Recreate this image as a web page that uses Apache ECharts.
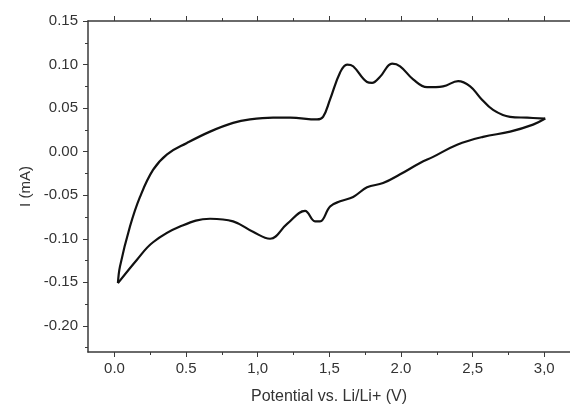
<!DOCTYPE html>
<html>
<head>
<meta charset="utf-8">
<script src="https://cdn.jsdelivr.net/npm/echarts@6/dist/echarts.min.js"></script>
<style>html,body{margin:0;padding:0;background:#fff}#c{width:570px;height:410px}</style>
</head>
<body>
<div id="c"></div>
<script>
// Anodic (forward) scan: potential (V) and current (mA)
const forwardV = [0.024,0.038,0.108,0.178,0.269,0.367,0.506,0.667,0.828,0.946,1.107,1.226,1.414,1.456,1.505,1.575,1.624,1.666,1.763,1.798,1.854,1.938,1.994,2.085,2.182,2.294,2.399,2.483,2.553,2.643,2.762,2.881,3.007];
const forwardI = [-0.151,-0.132,-0.086,-0.052,-0.021,-0.003,0.010,0.023,0.033,0.037,0.039,0.039,0.037,0.040,0.060,0.091,0.100,0.098,0.080,0.079,0.086,0.101,0.098,0.083,0.074,0.075,0.081,0.075,0.062,0.048,0.040,0.039,0.038];
// Cathodic (reverse) scan
const reverseV = [3.007,2.922,2.762,2.573,2.392,2.224,2.133,1.994,1.875,1.763,1.666,1.575,1.505,1.435,1.400,1.330,1.205,1.086,0.967,0.828,0.667,0.457,0.269,0.157,0.024];
const reverseI = [0.038,0.031,0.023,0.017,0.008,-0.006,-0.013,-0.026,-0.036,-0.041,-0.052,-0.057,-0.063,-0.080,-0.080,-0.068,-0.083,-0.100,-0.092,-0.080,-0.077,-0.086,-0.104,-0.124,-0.151];

const xTickValues = [0, 0.5, 1.0, 1.5, 2.0, 2.5, 3.0];
const xTickLabels = ["0.0", "0.5", "1,0", "1,5", "2.0", "2,5", "3,0"];
const xMinorValues = [0.25, 0.75, 1.25, 1.75, 2.25, 2.75];
const yTickValues = [-0.20, -0.15, -0.10, -0.05, 0.00, 0.05, 0.10, 0.15];
const yTickLabels = ["-0.20", "-0.15", "-0.10", "-0.05", "0.00", "0.05", "0.10", "0.15"];
const yMinorValues = [-0.225, -0.175, -0.125, -0.075, -0.025, 0.025, 0.075, 0.125];

const xName = "Potential vs. Li/Li+ (V)";
const yName = "I (mA)";

const XMIN = -0.185, XMAX = 3.18, YMIN = -0.23, YMAX = 0.15;
const AX = '#3a3a3a';
const FONT = 'Liberation Sans, Arial, sans-serif';

function pairs(a, b) { return a.map((v, i) => [v, b[i]]); }

const chart = echarts.init(document.getElementById('c'), null, { renderer: 'canvas' });

const baseX = { type: 'value', min: XMIN, max: XMAX, splitLine: { show: false }, axisLabel: { show: false }, axisLine: { show: false, onZero: false } };
const baseY = { type: 'value', min: YMIN, max: YMAX, splitLine: { show: false }, axisLabel: { show: false }, axisLine: { show: false, onZero: false } };

chart.setOption({
  animation: false,
  backgroundColor: '#fff',
  grid: { left: 88, right: 0, top: 21, bottom: 58, containLabel: false },
  xAxis: [
    Object.assign({}, baseX, {
      position: 'bottom',
      axisLine: { show: true, onZero: false, lineStyle: { color: AX, width: 1.5 } },
      axisTick: { show: true, length: 5, customValues: xTickValues, lineStyle: { color: AX, width: 1 } },
      axisLabel: { show: true, customValues: xTickValues, margin: 9, color: '#333', fontSize: 15, fontFamily: FONT,
        formatter: function (v) { const i = xTickValues.findIndex(t => Math.abs(t - v) < 1e-6); return i >= 0 ? xTickLabels[i] : ''; } },
      name: xName, nameLocation: 'middle', nameGap: 37,
      nameTextStyle: { color: '#333', fontSize: 16, fontFamily: FONT }
    }),
    Object.assign({}, baseX, {
      position: 'bottom',
      axisTick: { show: true, length: 3, customValues: xMinorValues, lineStyle: { color: AX, width: 1 } }
    }),
    Object.assign({}, baseX, {
      position: 'top',
      axisLine: { show: true, onZero: false, lineStyle: { color: AX, width: 1.5 } },
      axisTick: { show: true, length: 5, customValues: xTickValues, lineStyle: { color: AX, width: 1 } }
    }),
    Object.assign({}, baseX, {
      position: 'top',
      axisTick: { show: true, length: 3, customValues: xMinorValues, lineStyle: { color: AX, width: 1 } }
    })
  ],
  yAxis: [
    Object.assign({}, baseY, {
      position: 'left',
      axisLine: { show: true, onZero: false, lineStyle: { color: AX, width: 1.5 } },
      axisTick: { show: true, length: 5, customValues: yTickValues, lineStyle: { color: AX, width: 1 } },
      axisLabel: { show: true, customValues: yTickValues, margin: 10, color: '#333', fontSize: 15, fontFamily: FONT,
        formatter: function (v) { const i = yTickValues.findIndex(t => Math.abs(t - v) < 1e-6); return i >= 0 ? yTickLabels[i] : ''; } },
      name: yName, nameLocation: 'middle', nameGap: 53, nameRotate: 90,
      nameTextStyle: { color: '#333', fontSize: 15, fontFamily: FONT }
    }),
    Object.assign({}, baseY, {
      position: 'left',
      axisTick: { show: true, length: 3, customValues: yMinorValues, lineStyle: { color: AX, width: 1 } }
    })
  ],
  series: [
    { type: 'line', xAxisIndex: 0, yAxisIndex: 0, data: pairs(forwardV, forwardI), smooth: 0.4, showSymbol: false,
      lineStyle: { color: '#111', width: 2.2 } },
    { type: 'line', xAxisIndex: 0, yAxisIndex: 0, data: pairs(reverseV, reverseI), smooth: 0.4, showSymbol: false,
      lineStyle: { color: '#111', width: 2.2 } }
  ]
});
</script>
</body>
</html>
